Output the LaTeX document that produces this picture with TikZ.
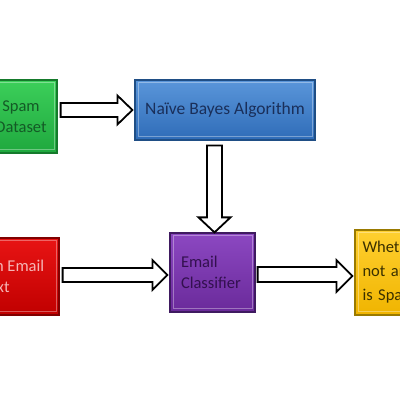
\documentclass[tikz,border=0pt]{standalone}
\usepackage{fontspec}
\setmainfont{Carlito}
\usetikzlibrary{calc}
\definecolor{gtop}{HTML}{3CCF5A}\definecolor{gbot}{HTML}{1FA83E}\definecolor{gbrd}{HTML}{157A2B}\definecolor{gtxt}{HTML}{145A26}
\definecolor{btop}{HTML}{5A96DA}\definecolor{bbot}{HTML}{2F6CB8}\definecolor{bbrd}{HTML}{1F4E85}\definecolor{btxt}{HTML}{1A2F5A}
\definecolor{rtop}{HTML}{E81414}\definecolor{rbot}{HTML}{C00000}\definecolor{rbrd}{HTML}{800000}\definecolor{rtxt}{HTML}{F5B5B5}
\definecolor{ptop}{HTML}{8C48C2}\definecolor{pbot}{HTML}{6A2A9A}\definecolor{pbrd}{HTML}{3F1A60}\definecolor{ptxt}{HTML}{33104F}
\definecolor{ytop}{HTML}{FFD030}\definecolor{ybot}{HTML}{F0B400}\definecolor{ybrd}{HTML}{9A7A00}\definecolor{ytxt}{HTML}{3A3000}
\begin{document}
\begin{tikzpicture}[x=1pt,y=1pt,
  box/.style={draw=#1brd, line width=1.2pt, top color=#1top, bottom color=#1bot,
    text=#1txt, inner sep=0pt, font=\fontsize{16.5}{21}\selectfont,
    path picture={\draw[white,opacity=.35,line width=1pt]
      ([shift={(3pt,-3pt)}]path picture bounding box.north west) rectangle
      ([shift={(-3pt,3pt)}]path picture bounding box.south east);}},
  barrow/.style={draw=black, fill=white, line width=1.8pt, line join=miter}]
\useasboundingbox (0,0) rectangle (400,400);
\clip (0,0) rectangle (400,400);
\fill[white] (0,0) rectangle (400,400);
% boxes
\node[box=g, minimum width=72, minimum height=73, align=center] (g) at (21,283.5) {Spam\\Dataset};
\node[box=b, minimum width=180, minimum height=60, font=\fontsize{17.5}{21}\selectfont] (b) at (225,290) {Naïve Bayes Algorithm};
\node[box=r, minimum width=126, minimum height=77, align=center] (r) at (-4,123.5) {Input an Email\\Text};
\node[box=p, minimum width=85, minimum height=79, text width=63, align=left] (p) at (212.5,127.5) {Email\\Classifier};
\node[box=y, minimum width=105, minimum height=85, text width=90, align=left, font=\fontsize{16.5}{24}\selectfont] (y) at (407.5,127.5) {Whether or\\not an email\\is Spam};
% block arrows
\draw[barrow] let \p1=($(g.east)+(3pt,0)$), \p2=($(b.west)+(-2pt,0)$) in
  (\x1,\y2+7pt) -- (\x2-15pt,\y2+7pt) -- (\x2-15pt,\y2+14.5pt) -- (\x2,\y2) --
  (\x2-15pt,\y2-14.5pt) -- (\x2-15pt,\y2-7pt) -- (\x1,\y2-7pt) -- cycle;
\draw[barrow] let \p1=($(b.south)+(-10.5pt,-5pt)$), \p2=($(p.north)+(0,0pt)$) in
  (\x1-7.5pt,\y1) -- (\x1-7.5pt,\y2+15pt) -- (\x1-16pt,\y2+15pt) -- (\x1,\y2) --
  (\x1+16pt,\y2+15pt) -- (\x1+7.5pt,\y2+15pt) -- (\x1+7.5pt,\y1) -- cycle;
\draw[barrow] let \p1=($(r.east)+(3pt,0)$), \p2=($(p.west)+(-2pt,0)$) in
  (\x1,\y1+8.5pt) -- (\x2-15pt,\y1+8.5pt) -- (\x2-15pt,\y1+16.5pt) -- (\x2,\y1+1.5pt) --
  (\x2-15pt,\y1-13.5pt) -- (\x2-15pt,\y1-5.5pt) -- (\x1,\y1-5.5pt) -- cycle;
\draw[barrow] let \p1=($(p.east)+(2pt,0)$), \p2=($(y.west)+(-2pt,0)$) in
  (\x1,\y1+5.5pt) -- (\x2-16pt,\y1+5.5pt) -- (\x2-16pt,\y1+12.5pt) -- (\x2,\y1-3.5pt) --
  (\x2-16pt,\y1-19.5pt) -- (\x2-16pt,\y1-9.5pt) -- (\x1,\y1-9.5pt) -- cycle;
\end{tikzpicture}
\end{document}
